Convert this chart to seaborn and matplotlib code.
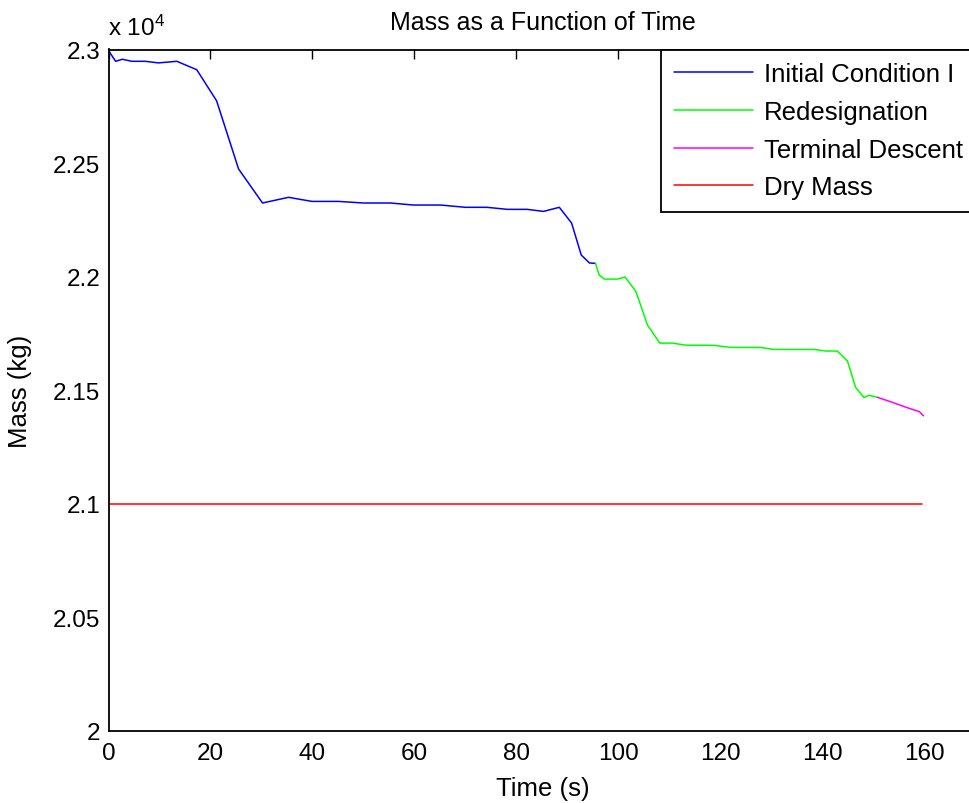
import matplotlib
matplotlib.use("Agg")
import matplotlib.pyplot as plt
import pandas as pd
import seaborn as sns
from matplotlib.ticker import FuncFormatter

# Data (time in s, mass in kg)
t_initial = [0.0, 1.4, 2.7, 4.6, 7.2, 9.8, 13.4, 17.3, 21.2, 25.5, 30.2, 35.3,
             39.9, 45.1, 50.0, 55.3, 59.8, 65.1, 70.0, 74.2, 78.2, 82.1, 85.3,
             88.4, 90.8, 92.7, 94.3, 95.5]
m_initial = [22995, 22948, 22957, 22948, 22948, 22941, 22948, 22911, 22774,
             22474, 22324, 22349, 22331, 22331, 22324, 22324, 22315, 22315,
             22305, 22305, 22296, 22296, 22287, 22305, 22236, 22095, 22060,
             22058]

t_redesig = [95.5, 96.2, 97.2, 99.8, 101.3, 103.4, 105.7, 108.1, 110.6, 113.1,
             118.8, 121.9, 127.9, 130.4, 138.4, 140.7, 142.9, 144.9, 146.5,
             148.1, 149.2, 150.8]
m_redesig = [22058, 22007, 21989, 21989, 21998, 21935, 21786, 21707, 21707,
             21698, 21697, 21688, 21688, 21679, 21679, 21672, 21672, 21628,
             21512, 21468, 21477, 21468]

t_terminal = [150.8, 152.8, 154.7, 156.7, 159.0, 159.8]
m_terminal = [21468, 21453, 21438, 21422, 21405, 21387]

t_dry = [0.0, 159.6]
m_dry = [21000, 21000]

series = [
    ("Initial Condition I", t_initial, m_initial, "#0000ff"),
    ("Redesignation", t_redesig, m_redesig, "#00ff00"),
    ("Terminal Descent", t_terminal, m_terminal, "#ff00ff"),
    ("Dry Mass", t_dry, m_dry, "#ff0000"),
]

sns.set_theme(style="white")
plt.rcParams["font.family"] = ["Liberation Sans", "DejaVu Sans"]
plt.rcParams["mathtext.default"] = "regular"
plt.rcParams["text.color"] = "black"
plt.rcParams["axes.labelcolor"] = "black"

fig = plt.figure(figsize=(9.69, 8.04), dpi=100)
ax = fig.add_axes([108.5 / 969, 72.3 / 804, 869 / 969, 681.2 / 804])

for name, t, m, col in series:
    df = pd.DataFrame({"Time": t, "Mass": m})
    sns.lineplot(data=df, x="Time", y="Mass", ax=ax, color=col, label=name,
                 linewidth=1.1, sort=False, estimator=None, errorbar=None)

ax.set_xlim(0, 170.4)
ax.set_ylim(20000, 23000)
ax.set_xticks(range(0, 161, 20))
ax.set_yticks([20000, 20500, 21000, 21500, 22000, 22500, 23000])
ax.yaxis.set_major_formatter(FuncFormatter(lambda v, p: "%g" % (v / 1e4)))

ax.tick_params(direction="in", length=6.5, width=1, colors="black",
               top=True, right=True, labelsize=17.5)
ax.tick_params(axis="x", pad=8)
ax.tick_params(axis="y", pad=6)
for s in ax.spines.values():
    s.set_color("black")
    s.set_linewidth(1.3)

ax.set_xlabel("Time (s)", fontsize=18.5, labelpad=8.5)
ax.set_ylabel("Mass (kg)", fontsize=18.5)
ax.yaxis.set_label_coords(-0.088, 0.5)
ax.set_title("Mass as a Function of Time", fontsize=18, pad=15, color="black")
ax.text(0, 1.0217, r"x 10$^4$", transform=ax.transAxes, fontsize=17.5,
        ha="left", va="baseline")

leg = ax.legend(loc="upper right", bbox_to_anchor=(0.9977, 1.0),
                borderaxespad=0, fontsize=18.5,
                frameon=True, fancybox=False, framealpha=1, edgecolor="black",
                handlelength=3.1, handletextpad=0.4, labelspacing=0.53,
                borderpad=0.5)
leg.get_frame().set_linewidth(1.3)

fig.savefig("out.png", dpi=100)
